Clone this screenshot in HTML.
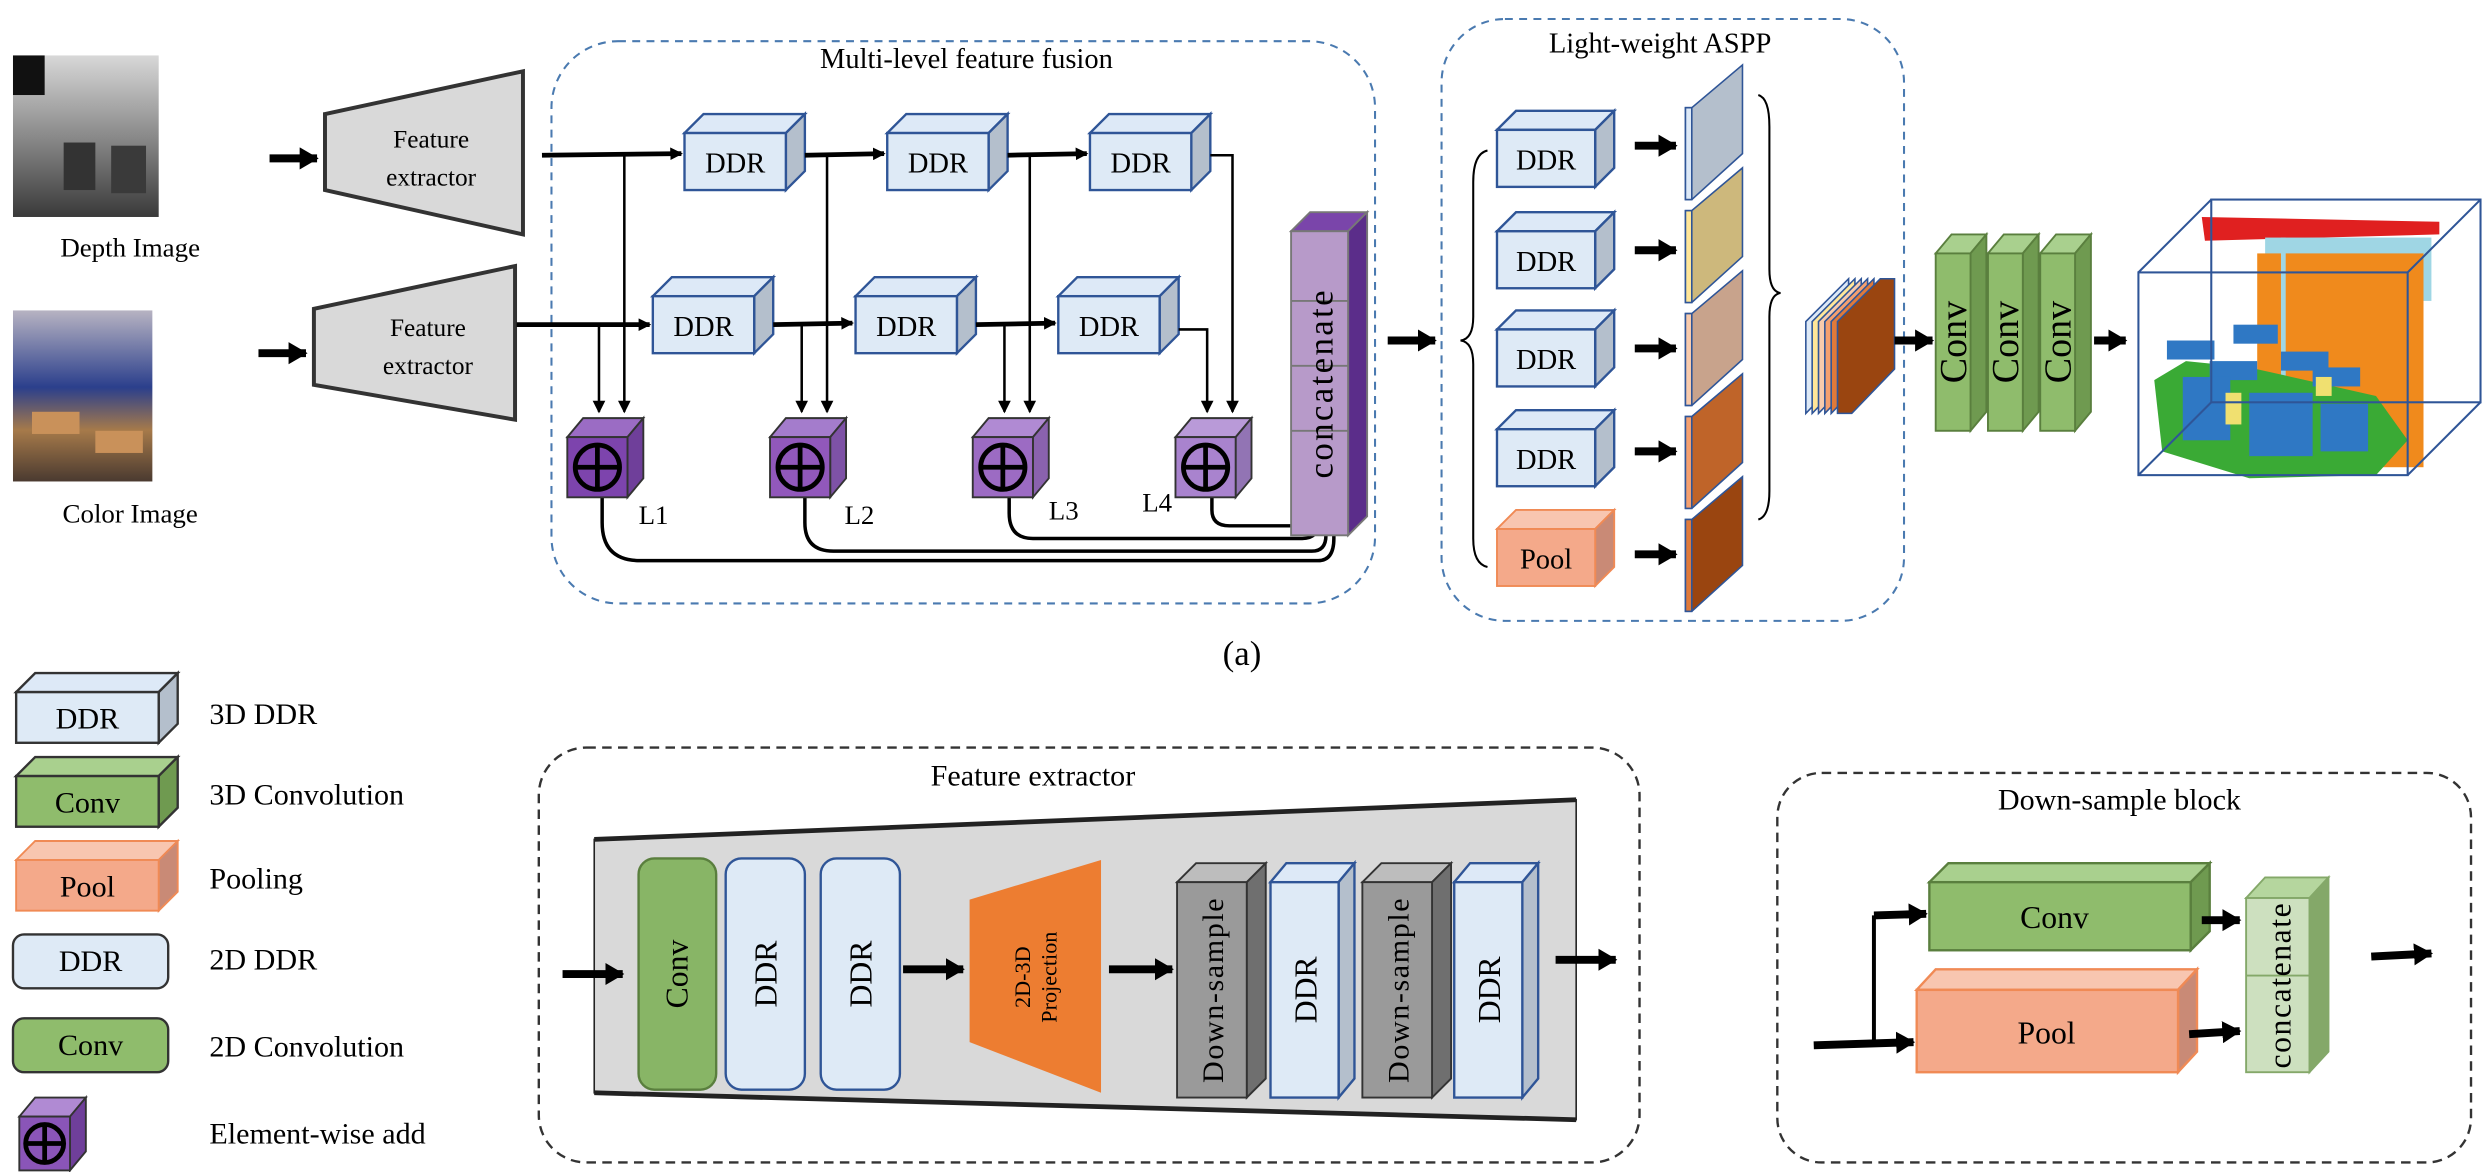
<!DOCTYPE html>
<html><head><meta charset="utf-8"><style>
html,body{margin:0;padding:0;background:#fff;font-family:"Liberation Serif",serif;}
svg{display:block;font-family:"Liberation Serif",serif;}
svg text{font-family:"Liberation Serif",serif !important;fill:#000;}
</style></head><body>
<svg width="2484" height="1172" viewBox="0 0 1568 740" xmlns="http://www.w3.org/2000/svg" font-family="Liberation Serif, serif" style="font-family:'Liberation Serif',serif">
<defs>
<marker id="ah" markerWidth="8" markerHeight="8" refX="7" refY="4" orient="auto" markerUnits="userSpaceOnUse"><path d="M0,0 L8,4 L0,8 z" fill="#000"/></marker>
<marker id="fh" markerWidth="12" markerHeight="14" refX="11" refY="7" orient="auto" markerUnits="userSpaceOnUse"><path d="M0,0 L12,7 L0,14 z" fill="#000"/></marker>
<linearGradient id="dep" x1="0" y1="0" x2="0" y2="1"><stop offset="0" stop-color="#d8d8d8"/><stop offset="0.5" stop-color="#8a8a8a"/><stop offset="1" stop-color="#3a3a3a"/></linearGradient>
<linearGradient id="col" x1="0" y1="0" x2="0" y2="1"><stop offset="0" stop-color="#b7b3c2"/><stop offset="0.45" stop-color="#2b3f8c"/><stop offset="0.7" stop-color="#a67a4a"/><stop offset="1" stop-color="#4a3a30"/></linearGradient>
</defs>
<g font-family="Liberation Serif, serif">
<!-- images -->
<rect x="8" y="35" width="92" height="102" fill="url(#dep)"/>
<rect x="8" y="35" width="20" height="25" fill="#111"/>
<rect x="40" y="90" width="20" height="30" fill="#333"/><rect x="70" y="92" width="22" height="30" fill="#3a3a3a"/>
<text x="82" y="162" font-size="17" text-anchor="middle">Depth Image</text>
<rect x="8" y="196" width="88" height="108" fill="url(#col)"/>
<rect x="20" y="260" width="30" height="14" fill="#c9915a"/><rect x="60" y="272" width="30" height="14" fill="#c9915a"/>
<text x="82" y="330" font-size="17" text-anchor="middle">Color Image</text>

<!-- feature extractors -->
<line x1="170" y1="100" x2="200" y2="100" stroke="#000" stroke-width="5" marker-end="url(#fh)"/>
<polygon points="205,72 330,45 330,148 205,120" fill="#d9d9d9" stroke="#333" stroke-width="2.5"/>
<text x="272" y="93" font-size="16" text-anchor="middle">Feature</text>
<text x="272" y="117" font-size="16" text-anchor="middle">extractor</text>
<line x1="163" y1="223" x2="193" y2="223" stroke="#000" stroke-width="5" marker-end="url(#fh)"/>
<polygon points="198,195 325,168 325,265 198,243" fill="#d9d9d9" stroke="#333" stroke-width="2.5"/>
<text x="270" y="212" font-size="16" text-anchor="middle">Feature</text>
<text x="270" y="236" font-size="16" text-anchor="middle">extractor</text>

<!-- multi-level box -->
<rect x="348" y="26" width="520" height="355" rx="42" fill="none" stroke="#4a7ab0" stroke-width="1.3" stroke-dasharray="5,4"/>
<text x="610" y="43" font-size="18" text-anchor="middle">Multi-level feature fusion</text>

<g stroke="#2f5597" stroke-width="1.5">
<polygon points="432,84 444,72 508,72 496,84" fill="#dde9f7"/><polygon points="496,84 508,72 508,108 496,120" fill="#b4bfcc"/><rect x="432" y="84" width="64" height="36" fill="#deeaf6"/>
<polygon points="560,84 572,72 636,72 624,84" fill="#dde9f7"/><polygon points="624,84 636,72 636,108 624,120" fill="#b4bfcc"/><rect x="560" y="84" width="64" height="36" fill="#deeaf6"/>
<polygon points="688,84 700,72 764,72 752,84" fill="#dde9f7"/><polygon points="752,84 764,72 764,108 752,120" fill="#b4bfcc"/><rect x="688" y="84" width="64" height="36" fill="#deeaf6"/>
<polygon points="412,187 424,175 488,175 476,187" fill="#dde9f7"/><polygon points="476,187 488,175 488,211 476,223" fill="#b4bfcc"/><rect x="412" y="187" width="64" height="36" fill="#deeaf6"/>
<polygon points="540,187 552,175 616,175 604,187" fill="#dde9f7"/><polygon points="604,187 616,175 616,211 604,223" fill="#b4bfcc"/><rect x="540" y="187" width="64" height="36" fill="#deeaf6"/>
<polygon points="668,187 680,175 744,175 732,187" fill="#dde9f7"/><polygon points="732,187 744,175 744,211 732,223" fill="#b4bfcc"/><rect x="668" y="187" width="64" height="36" fill="#deeaf6"/>
</g>
<g font-size="18" text-anchor="middle">
<text x="464" y="109">DDR</text><text x="592" y="109">DDR</text><text x="720" y="109">DDR</text>
<text x="444" y="212">DDR</text><text x="572" y="212">DDR</text><text x="700" y="212">DDR</text>
</g>

<!-- connectors -->
<g stroke="#000" fill="none">
<line x1="342" y1="98" x2="430" y2="97" stroke-width="3" marker-end="url(#ah)"/>
<line x1="508" y1="98" x2="558" y2="97" stroke-width="3" marker-end="url(#ah)"/>
<line x1="636" y1="98" x2="686" y2="97" stroke-width="3" marker-end="url(#ah)"/>
<polyline points="764,98 778,98 778,260" stroke-width="1.6" marker-end="url(#ah)"/>
<line x1="326" y1="205" x2="410" y2="205" stroke-width="3" marker-end="url(#ah)"/>
<line x1="488" y1="205" x2="538" y2="204" stroke-width="3" marker-end="url(#ah)"/>
<line x1="616" y1="205" x2="666" y2="204" stroke-width="3" marker-end="url(#ah)"/>
<polyline points="744,208 762,208 762,260" stroke-width="1.6" marker-end="url(#ah)"/>
<g stroke-width="1.6" marker-end="url(#ah)">
<line x1="394" y1="98" x2="394" y2="260"/><line x1="378" y1="205" x2="378" y2="260"/>
<line x1="522" y1="98" x2="522" y2="260"/><line x1="506" y1="205" x2="506" y2="260"/>
<line x1="650" y1="98" x2="650" y2="260"/><line x1="634" y1="205" x2="634" y2="260"/>
</g>
<g stroke-width="2.2" marker-end="url(#ah)">
<path d="M380,314 V330 Q380,354 404,354 H832 Q842,354 842,340 V318"/>
<path d="M508,314 V330 Q508,348 526,348 H828 Q837,348 837,338 V318"/>
<path d="M637,314 V324 Q637,340 652,340 H822 Q832,340 832,330 V318"/>
<path d="M765,314 V322 Q765,332 776,332 H818 Q827,332 827,324 V318"/>
</g>
</g>

<!-- add cubes -->
<g stroke="#333" stroke-width="1.2">
<g><polygon points="358,276 368,264 406,264 396,276" fill="#9b6cc4"/><polygon points="396,276 406,264 406,302 396,314" fill="#6f3f9a"/><rect x="358" y="276" width="38" height="38" fill="#7d44ad"/></g>
<g><polygon points="486,276 496,264 534,264 524,276" fill="#a47ccc"/><polygon points="524,276 534,264 534,302 524,314" fill="#7e52a6"/><rect x="486" y="276" width="38" height="38" fill="#9158bb"/></g>
<g><polygon points="614,276 624,264 662,264 652,276" fill="#b08ad3"/><polygon points="652,276 662,264 662,302 652,314" fill="#8a62ae"/><rect x="614" y="276" width="38" height="38" fill="#9c6bc3"/></g>
<g><polygon points="742,276 752,264 790,264 780,276" fill="#b99ad8"/><polygon points="780,276 790,264 790,302 780,314" fill="#9274b4"/><rect x="742" y="276" width="38" height="38" fill="#a983ce"/></g>
</g>
<g stroke="#000" stroke-width="3" fill="none">
<circle cx="377" cy="295" r="14"/><line x1="363" y1="295" x2="391" y2="295"/><line x1="377" y1="281" x2="377" y2="309"/>
<circle cx="505" cy="295" r="14"/><line x1="491" y1="295" x2="519" y2="295"/><line x1="505" y1="281" x2="505" y2="309"/>
<circle cx="633" cy="295" r="14"/><line x1="619" y1="295" x2="647" y2="295"/><line x1="633" y1="281" x2="633" y2="309"/>
<circle cx="761" cy="295" r="14"/><line x1="747" y1="295" x2="775" y2="295"/><line x1="761" y1="281" x2="761" y2="309"/>
</g>
<g font-size="17"><text x="403" y="331">L1</text><text x="533" y="331">L2</text><text x="662" y="328">L3</text><text x="721" y="323">L4</text></g>

<!-- concatenate column -->
<g stroke="#777" stroke-width="1.2">
<polygon points="815,146 827,134 863,134 851,146" fill="#7a45aa"/>
<polygon points="851,146 863,134 863,326 851,338" fill="#5b2d8a"/>
<rect x="815" y="146" width="36" height="192" fill="#b79ac9"/>
<line x1="815" y1="190" x2="851" y2="190"/><line x1="815" y1="231" x2="851" y2="231"/><line x1="815" y1="272" x2="851" y2="272"/>
</g>
<text transform="translate(841,242) rotate(-90)" font-size="22" text-anchor="middle" letter-spacing="1.5">concatenate</text>

<line x1="876" y1="215" x2="906" y2="215" stroke="#000" stroke-width="5" marker-end="url(#fh)"/>

<!-- ASPP -->
<rect x="910" y="12" width="292" height="380" rx="40" fill="none" stroke="#4a7ab0" stroke-width="1.3" stroke-dasharray="5,4"/>
<text x="1048" y="33" font-size="18" text-anchor="middle">Light-weight ASPP</text>
<g stroke="#2f5597" stroke-width="1.5">
<polygon points="945,82 957,70 1019,70 1007,82" fill="#dde9f7"/><polygon points="1007,82 1019,70 1019,106 1007,118" fill="#b4bfcc"/><rect x="945" y="82" width="62" height="36" fill="#deeaf6"/>
<polygon points="945,146 957,134 1019,134 1007,146" fill="#dde9f7"/><polygon points="1007,146 1019,134 1019,170 1007,182" fill="#b4bfcc"/><rect x="945" y="146" width="62" height="36" fill="#deeaf6"/>
<polygon points="945,208 957,196 1019,196 1007,208" fill="#dde9f7"/><polygon points="1007,208 1019,196 1019,232 1007,244" fill="#b4bfcc"/><rect x="945" y="208" width="62" height="36" fill="#deeaf6"/>
<polygon points="945,271 957,259 1019,259 1007,271" fill="#dde9f7"/><polygon points="1007,271 1019,259 1019,295 1007,307" fill="#b4bfcc"/><rect x="945" y="271" width="62" height="36" fill="#deeaf6"/>
</g>
<g stroke="#f08a55" stroke-width="1.2">
<polygon points="945,334 957,322 1019,322 1007,334" fill="#f8c6b0"/><polygon points="1007,334 1019,322 1019,358 1007,370" fill="#c98a76"/><rect x="945" y="334" width="62" height="36" fill="#f4a98a"/>
</g>
<g font-size="18" text-anchor="middle"><text x="976" y="107">DDR</text><text x="976" y="171">DDR</text><text x="976" y="233">DDR</text><text x="976" y="296">DDR</text><text x="976" y="359">Pool</text></g>
<g stroke="#000" stroke-width="5" marker-end="url(#fh)">
<line x1="1032" y1="92" x2="1058" y2="92"/><line x1="1032" y1="158" x2="1058" y2="158"/><line x1="1032" y1="220" x2="1058" y2="220"/><line x1="1032" y1="285" x2="1058" y2="285"/><line x1="1032" y1="350" x2="1058" y2="350"/>
</g>
<g stroke="#2f5597" stroke-width="1">
<polygon points="1064,68 1068,68 1100,41 1100,97 1068,126 1064,126" fill="#b4bfcc"/><rect x="1064" y="68" width="4" height="58" fill="#dde9f7"/>
<polygon points="1064,133 1068,133 1100,106 1100,162 1068,191 1064,191" fill="#cdb87c"/><rect x="1064" y="133" width="4" height="58" fill="#ffe699"/>
<polygon points="1064,198 1068,198 1100,171 1100,227 1068,256 1064,256" fill="#c8a38c"/><rect x="1064" y="198" width="4" height="58" fill="#f8cbad"/>
<polygon points="1064,263 1068,263 1100,236 1100,292 1068,321 1064,321" fill="#bf6429"/><rect x="1064" y="263" width="4" height="58" fill="#f4a070"/>
<polygon points="1064,328 1068,328 1100,301 1100,357 1068,386 1064,386" fill="#9a4510"/><rect x="1064" y="328" width="4" height="58" fill="#e07a3a"/>
</g>
<path d="M1110,60 Q1117,62 1117,80 V170 Q1117,184 1124,185 Q1117,186 1117,200 V310 Q1117,326 1110,328" fill="none" stroke="#000" stroke-width="1.3"/>
<path d="M939,95 Q930,97 930,115 V200 Q930,214 922,215 Q930,216 930,230 V340 Q930,356 939,358" fill="none" stroke="#000" stroke-width="1.3"/>
<g stroke="#2f5597" stroke-width="1">
<polygon points="1140,203 1167,176 1167,233 1140,261" fill="#dde9f7"/>
<polygon points="1144,203 1171,176 1171,233 1144,261" fill="#ffe699"/>
<polygon points="1148,203 1175,176 1175,233 1148,261" fill="#f8cbad"/>
<polygon points="1152,203 1179,176 1179,233 1152,261" fill="#f4a070"/>
<polygon points="1156,203 1183,176 1183,233 1156,261" fill="#e07a3a"/>
<polygon points="1160,203 1187,176 1196,176 1196,233 1169,261 1160,261" fill="#9a4510"/>
</g>
<line x1="1196" y1="215" x2="1220" y2="215" stroke="#000" stroke-width="5" marker-end="url(#fh)"/>
<g stroke="#5a7f3e" stroke-width="1.2">
<polygon points="1222,160 1232,148 1254,148 1244,160" fill="#a9d08e"/><polygon points="1244,160 1254,148 1254,260 1244,272" fill="#6f9a50"/><rect x="1222" y="160" width="22" height="112" fill="#8fbc6c"/>
<polygon points="1255,160 1265,148 1287,148 1277,160" fill="#a9d08e"/><polygon points="1277,160 1287,148 1287,260 1277,272" fill="#6f9a50"/><rect x="1255" y="160" width="22" height="112" fill="#8fbc6c"/>
<polygon points="1288,160 1298,148 1320,148 1310,160" fill="#a9d08e"/><polygon points="1310,160 1320,148 1320,260 1310,272" fill="#6f9a50"/><rect x="1288" y="160" width="22" height="112" fill="#8fbc6c"/>
</g>
<g font-size="24" text-anchor="middle">
<text transform="translate(1241,216) rotate(-90)">Conv</text>
<text transform="translate(1274,216) rotate(-90)">Conv</text>
<text transform="translate(1307,216) rotate(-90)">Conv</text>
</g>
<line x1="1322" y1="215" x2="1342" y2="215" stroke="#000" stroke-width="5" marker-end="url(#fh)"/>
<g>
<polygon points="1390,137 1540,140 1540,148 1392,152" fill="#e02020"/>
<rect x="1430" y="150" width="105" height="40" fill="#9fd6e4"/>
<rect x="1425" y="160" width="105" height="135" fill="#f08a1c"/>
<rect x="1440" y="150" width="3" height="120" fill="#9fd6e4"/>
<polygon points="1360,240 1380,228 1420,232 1500,250 1520,278 1500,300 1420,302 1365,285" fill="#3aaa35"/>
<rect x="1368" y="215" width="30" height="12" fill="#2f78c4"/><rect x="1410" y="205" width="28" height="12" fill="#2f78c4"/>
<rect x="1395" y="228" width="30" height="12" fill="#2f78c4"/><rect x="1440" y="222" width="30" height="12" fill="#2f78c4"/>
<rect x="1460" y="232" width="30" height="12" fill="#2f78c4"/><rect x="1420" y="248" width="40" height="40" fill="#2f78c4"/>
<rect x="1378" y="238" width="30" height="40" fill="#2f78c4"/><rect x="1465" y="255" width="30" height="30" fill="#2f78c4"/>
<rect x="1405" y="248" width="10" height="20" fill="#f0e070"/><rect x="1462" y="238" width="10" height="12" fill="#f0e070"/>
</g>
<g fill="none" stroke="#2f5597" stroke-width="1.3">
<rect x="1350" y="172" width="170" height="128"/>
<rect x="1396" y="126" width="170" height="128"/>
<line x1="1350" y1="172" x2="1396" y2="126"/><line x1="1520" y1="172" x2="1566" y2="126"/><line x1="1520" y1="300" x2="1566" y2="254"/><line x1="1350" y1="300" x2="1396" y2="254"/>
</g>

<text x="784" y="420" font-size="22" text-anchor="middle">(a)</text>

<!-- legend -->
<g stroke="#333" stroke-width="1.5">
<polygon points="10,437 22,425 112,425 100,437" fill="#dde9f7"/><polygon points="100,437 112,425 112,457 100,469" fill="#b4bfcc"/><rect x="10" y="437" width="90" height="32" fill="#deeaf6"/>
<polygon points="10,490 22,478 112,478 100,490" fill="#a9d08e"/><polygon points="100,490 112,478 112,510 100,522" fill="#6f9a50"/><rect x="10" y="490" width="90" height="32" fill="#8fbc6c"/>
</g>
<g stroke="#f08a55" stroke-width="1.2">
<polygon points="10,543 22,531 112,531 100,543" fill="#f8c6b0"/><polygon points="100,543 112,531 112,563 100,575" fill="#c98a76"/><rect x="10" y="543" width="90" height="32" fill="#f4a98a"/>
</g>
<rect x="8" y="590" width="98" height="34" rx="7" fill="#deeaf6" stroke="#333" stroke-width="1.5"/>
<rect x="8" y="643" width="98" height="34" rx="7" fill="#8fbc6c" stroke="#333" stroke-width="1.5"/>
<g stroke="#333" stroke-width="1.2">
<polygon points="12,705 22,693 54,693 44,705" fill="#b08ad3"/><polygon points="44,705 54,693 54,727 44,739" fill="#6f3f9a"/><rect x="12" y="705" width="32" height="34" fill="#8a55b8"/>
</g>
<g stroke="#000" stroke-width="3" fill="none"><circle cx="28" cy="722" r="12"/><line x1="16" y1="722" x2="40" y2="722"/><line x1="28" y1="710" x2="28" y2="734"/></g>
<g font-size="19" text-anchor="middle">
<text x="55" y="460">DDR</text><text x="55" y="513">Conv</text><text x="55" y="566">Pool</text><text x="57" y="613">DDR</text><text x="57" y="666">Conv</text>
</g>
<g font-size="19">
<text x="132" y="457">3D DDR</text><text x="132" y="508">3D Convolution</text><text x="132" y="561">Pooling</text><text x="132" y="612">2D DDR</text><text x="132" y="667">2D Convolution</text><text x="132" y="722">Element-wise add</text>
</g>

<!-- Feature extractor detail -->
<rect x="340" y="472" width="695" height="262" rx="30" fill="none" stroke="#333" stroke-width="1.5" stroke-dasharray="6,4"/>
<text x="652" y="496" font-size="19" text-anchor="middle">Feature extractor</text>
<polygon points="375,530 995,505 995,707 375,690" fill="#d9d9d9" stroke="#222" stroke-width="1"/>
<line x1="375" y1="530" x2="995" y2="505" stroke="#222" stroke-width="3"/>
<line x1="375" y1="690" x2="995" y2="707" stroke="#222" stroke-width="3"/>
<line x1="355" y1="615" x2="393" y2="615" stroke="#000" stroke-width="5" marker-end="url(#fh)"/>
<rect x="403" y="542" width="49" height="146" rx="10" fill="#88b566" stroke="#5a7f3e" stroke-width="1.5"/>
<rect x="458" y="542" width="50" height="146" rx="10" fill="#deeaf6" stroke="#2f5597" stroke-width="1.5"/>
<rect x="518" y="542" width="50" height="146" rx="10" fill="#deeaf6" stroke="#2f5597" stroke-width="1.5"/>
<line x1="570" y1="612" x2="608" y2="612" stroke="#000" stroke-width="5" marker-end="url(#fh)"/>
<polygon points="612,568 695,543 695,690 612,658" fill="#ed7d31"/>
<line x1="700" y1="612" x2="740" y2="612" stroke="#000" stroke-width="5" marker-end="url(#fh)"/>
<g stroke="#333" stroke-width="1.2">
<polygon points="743,557 755,545 799,545 787,557" fill="#bdbdbd"/><polygon points="787,557 799,545 799,681 787,693" fill="#6f6f6f"/><rect x="743" y="557" width="44" height="136" fill="#9a9a9a"/>
<polygon points="860,557 872,545 916,545 904,557" fill="#bdbdbd"/><polygon points="904,557 916,545 916,681 904,693" fill="#6f6f6f"/><rect x="860" y="557" width="44" height="136" fill="#9a9a9a"/>
</g>
<g stroke="#2f5597" stroke-width="1.5">
<polygon points="802,557 812,545 855,545 845,557" fill="#dde9f7"/><polygon points="845,557 855,545 855,681 845,693" fill="#b4bfcc"/><rect x="802" y="557" width="43" height="136" fill="#deeaf6"/>
<polygon points="918,557 928,545 971,545 961,557" fill="#dde9f7"/><polygon points="961,557 971,545 971,681 961,693" fill="#b4bfcc"/><rect x="918" y="557" width="43" height="136" fill="#deeaf6"/>
</g>
<g font-size="20" text-anchor="middle">
<text transform="translate(434,615) rotate(-90)">Conv</text>
<text transform="translate(490,615) rotate(-90)">DDR</text>
<text transform="translate(550,615) rotate(-90)">DDR</text>
<text transform="translate(772,625) rotate(-90)" font-size="19" letter-spacing="1">Down-sample</text>
<text transform="translate(831,625) rotate(-90)">DDR</text>
<text transform="translate(889,625) rotate(-90)" font-size="19" letter-spacing="1">Down-sample</text>
<text transform="translate(947,625) rotate(-90)">DDR</text>
</g>
<g font-size="14" text-anchor="middle">
<text transform="translate(650,617) rotate(-90)">2D-3D</text>
<text transform="translate(667,617) rotate(-90)">Projection</text>
</g>
<line x1="982" y1="606" x2="1020" y2="606" stroke="#000" stroke-width="5" marker-end="url(#fh)"/>

<!-- Down-sample block -->
<rect x="1122" y="488" width="438" height="246" rx="28" fill="none" stroke="#333" stroke-width="1.5" stroke-dasharray="6,4"/>
<text x="1338" y="511" font-size="19" text-anchor="middle">Down-sample block</text>
<g stroke="#5a7f3e" stroke-width="1.5">
<polygon points="1218,557 1230,545 1395,545 1383,557" fill="#a9d08e"/><polygon points="1383,557 1395,545 1395,588 1383,600" fill="#6f9a50"/><rect x="1218" y="557" width="165" height="43" fill="#8fbc6c"/>
</g>
<g stroke="#f08a55" stroke-width="1.5">
<polygon points="1210,625 1222,612 1387,612 1375,625" fill="#f8c6b0"/><polygon points="1375,625 1387,612 1387,664 1375,677" fill="#c98a76"/><rect x="1210" y="625" width="165" height="52" fill="#f4a98a"/>
</g>
<g stroke="#6f9a50" stroke-width="1.2" opacity="0.85">
<polygon points="1418,567 1430,554 1470,554 1458,567" fill="#a9d08e"/><polygon points="1458,567 1470,554 1470,664 1458,677" fill="#6f9a50"/><rect x="1418" y="567" width="40" height="110" fill="#c5dbb5"/>
<line x1="1418" y1="616" x2="1458" y2="616"/>
</g>
<text x="1297" y="586" font-size="20" text-anchor="middle">Conv</text>
<text x="1292" y="659" font-size="20" text-anchor="middle">Pool</text>
<text transform="translate(1446,622) rotate(-90)" font-size="20" text-anchor="middle" letter-spacing="1">concatenate</text>
<g stroke="#000">
<line x1="1145" y1="660" x2="1208" y2="658" stroke-width="5" marker-end="url(#fh)"/>
<polyline points="1183,659 1183,578" fill="none" stroke-width="2.5"/>
<line x1="1183" y1="578" x2="1216" y2="577" stroke-width="5" marker-end="url(#fh)"/>
<line x1="1390" y1="581" x2="1414" y2="581" stroke-width="5" marker-end="url(#fh)"/>
<line x1="1382" y1="653" x2="1414" y2="651" stroke-width="5" marker-end="url(#fh)"/>
<line x1="1497" y1="604" x2="1535" y2="602" stroke-width="5" marker-end="url(#fh)"/>
</g>
</g>
</svg>
</body></html>
